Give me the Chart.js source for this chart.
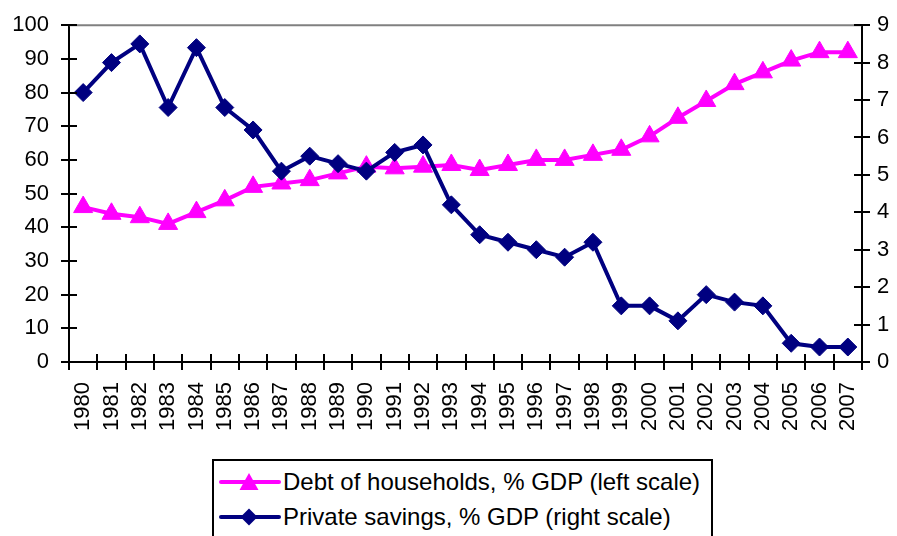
<!DOCTYPE html>
<html>
<head>
<meta charset="utf-8">
<script src="https://cdn.jsdelivr.net/npm/chart.js@4/dist/chart.umd.min.js"></script>
<style>
  html, body { margin: 0; padding: 0; background: #fff; overflow: hidden; }
  #wrap { position: relative; width: 897px; height: 536px; overflow: hidden; }
  #wrap canvas { position: absolute; left: 0; top: 0; }
  #legend { position: absolute; left: 212px; top: 459px; width: 501px; height: 90px;
            border: 2px solid #000; box-sizing: border-box; background: #fff;
            font-family: "Liberation Sans", Arial, sans-serif; font-size: 24px; color: #000; }
  .item { position: absolute; left: 5px; height: 30px; display: flex; align-items: center; white-space: nowrap; }
  .item svg { margin-right: 2px; }
</style>
</head>
<body>
<div id="wrap">
  <canvas id="c" width="897" height="536"></canvas>
  <div id="legend"></div>
</div>
<script>
const years = ["1980","1981","1982","1983","1984","1985","1986","1987","1988","1989",
  "1990","1991","1992","1993","1994","1995","1996","1997","1998","1999",
  "2000","2001","2002","2003","2004","2005","2006","2007"];
const debtHouseholds = [46, 44, 43, 41, 44.5, 48, 52, 53, 54, 56,
  58, 57.5, 58, 58.5, 57, 58.5, 60, 60, 61.5, 63,
  67, 72.5, 77.5, 82.5, 86, 89.5, 92, 92];
const privateSavings = [7.2, 8.0, 8.5, 6.8, 8.4, 6.8, 6.2, 5.1, 5.5, 5.3,
  5.1, 5.6, 5.8, 4.2, 3.4, 3.2, 3.0, 2.8, 3.2, 1.5,
  1.5, 1.1, 1.8, 1.6, 1.5, 0.5, 0.4, 0.4];
const leftTicks = [0,10,20,30,40,50,60,70,80,90,100];
const rightTicks = [0,1,2,3,4,5,6,7,8,9];
const seriesNames = ["Debt of households, % GDP (left scale)", "Private savings, % GDP (right scale)"];
const seriesColors = ["#FF00FF", "#000080"];

const FONT = { family: '"Liberation Sans", Arial, sans-serif', size: 22 };

const innerTicks = {
  id: 'innerTicks',
  beforeDatasetsDraw(chart) {
    const ctx = chart.ctx, a = chart.chartArea;
    ctx.save();
    ctx.strokeStyle = '#808080';
    ctx.lineWidth = 2;
    ctx.beginPath();
    ctx.moveTo(a.left, a.top);
    ctx.lineTo(a.right, a.top);
    ctx.stroke();
    ctx.restore();
  },
  afterDraw(chart) {
    const ctx = chart.ctx, a = chart.chartArea;
    ctx.save();
    ctx.strokeStyle = '#000';
    ctx.lineWidth = 2;
    ctx.beginPath();
    const x = chart.scales.x;
    for (let i = 0; i <= years.length; i++) {
      const px = Math.round(x.getPixelForValue(i - 0.5));
      ctx.moveTo(px, a.bottom);
      ctx.lineTo(px, a.bottom - 8);
    }
    const yl = chart.scales.y;
    yl.ticks.forEach((t, i) => {
      const py = Math.round(yl.getPixelForTick(i));
      ctx.moveTo(a.left, py);
      ctx.lineTo(a.left + 8, py);
    });
    const yr = chart.scales.y2;
    yr.ticks.forEach((t, i) => {
      const py = Math.round(yr.getPixelForTick(i));
      ctx.moveTo(a.right, py);
      ctx.lineTo(a.right - 8, py);
    });
    ctx.stroke();
    ctx.restore();
  }
};

new Chart(document.getElementById('c'), {
  type: 'line',
  data: {
    labels: years,
    datasets: [
      {
        label: seriesNames[0],
        data: debtHouseholds,
        yAxisID: 'y',
        borderColor: seriesColors[0],
        backgroundColor: seriesColors[0],
        borderWidth: 4,
        pointStyle: 'triangle',
        pointRadius: 11,
        pointBorderWidth: 1,
        pointBackgroundColor: seriesColors[0],
        pointBorderColor: seriesColors[0],
        tension: 0,
        order: 1
      },
      {
        label: seriesNames[1],
        data: privateSavings,
        yAxisID: 'y2',
        borderColor: seriesColors[1],
        backgroundColor: seriesColors[1],
        borderWidth: 4,
        pointStyle: 'rectRot',
        pointRadius: 9,
        pointBorderWidth: 1,
        pointBackgroundColor: seriesColors[1],
        pointBorderColor: seriesColors[1],
        tension: 0,
        order: 0
      }
    ]
  },
  options: {
    responsive: false,
    animation: false,
    events: [],
    layout: { padding: { top: 21, left: 0, right: 0, bottom: 94 } },
    plugins: { legend: { display: false }, tooltip: { enabled: false } },
    scales: {
      x: {
        type: 'category',
        offset: true,
        grid: { display: true, offset: true, drawOnChartArea: false, color: '#000', lineWidth: 2, tickLength: 8 },
        border: { display: true, color: '#000', width: 2 },
        ticks: { color: '#000', font: FONT, minRotation: 90, maxRotation: 90, padding: 12, autoSkip: false },
        afterFit(s) { s.height = 80; }
      },
      y: {
        position: 'left',
        min: 0, max: 100,
        afterBuildTicks(s) { s.ticks = leftTicks.map(v => ({ value: v })); },
        grid: { display: true, drawOnChartArea: false, color: '#000', lineWidth: 2, tickLength: 8 },
        border: { display: true, color: '#000', width: 2 },
        ticks: { color: '#000', font: FONT, padding: 12 },
        afterFit(s) { s.width = 69; }
      },
      y2: {
        position: 'right',
        min: 0, max: 9,
        afterBuildTicks(s) { s.ticks = rightTicks.map(v => ({ value: v })); },
        grid: { display: true, drawOnChartArea: false, color: '#000', lineWidth: 2, tickLength: 8 },
        border: { display: true, color: '#000', width: 2 },
        ticks: { color: '#000', font: FONT, padding: 7 },
        afterFit(s) { s.width = 35; }
      }
    }
  },
  plugins: [innerTicks]
});

// HTML legend built from the series names and colours
const legend = document.getElementById('legend');
const markers = [
  c => `<polygon points="30,1 39.5,18 20.5,18" fill="${c}"/>`,
  c => `<polygon points="30,1.5 38.5,10 30,18.5 21.5,10" fill="${c}"/>`
];
seriesNames.forEach((name, i) => {
  const div = document.createElement('div');
  div.className = 'item';
  div.style.top = (6 + i * 35) + 'px';
  div.innerHTML = `<svg width="62" height="20" viewBox="0 0 62 20">
      <line x1="2" y1="10" x2="60" y2="10" stroke="${seriesColors[i]}" stroke-width="4" stroke-linecap="round"/>
      ${markers[i](seriesColors[i])}</svg><span>${name}</span>`;
  legend.appendChild(div);
});
</script>
</body>
</html>
